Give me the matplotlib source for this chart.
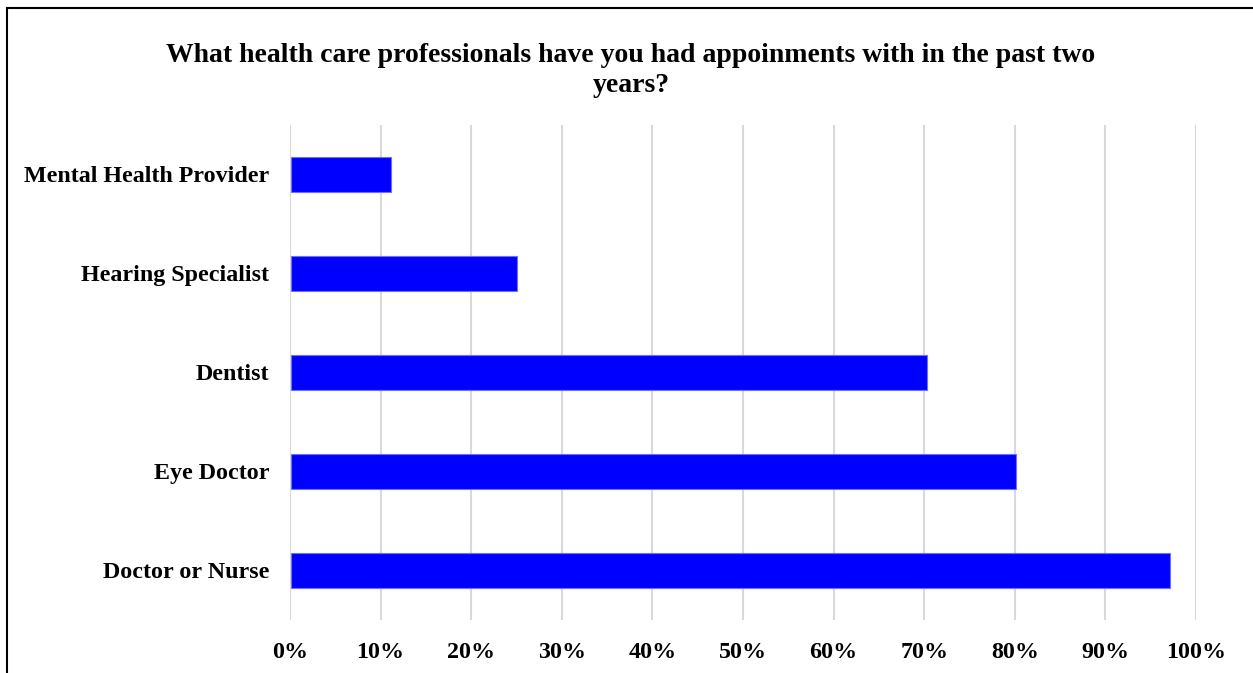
import matplotlib.pyplot as plt
from matplotlib.patches import Rectangle
from matplotlib.ticker import FuncFormatter

plt.rcParams['font.family'] = ['Liberation Serif', 'DejaVu Serif']
plt.rcParams['font.weight'] = 'bold'

categories = ['Doctor or Nurse', 'Eye Doctor', 'Dentist',
              'Hearing Specialist', 'Mental Health Provider']
shares = [97, 80, 70.2, 25, 11]
ticks = list(range(0, 101, 10))

title = ('What health care professionals have you had appoinments with in the past two\n'
         'years?')

fig = plt.figure(figsize=(12.53, 6.73), dpi=100)
ax = fig.add_axes([0.2314, 0.0788, 0.9545 - 0.2314, 0.8143 - 0.0788])

ax.barh(range(len(categories)), shares, height=0.35, left=0.1,
        color='#0000ff', edgecolor='#6f6fff', linewidth=0.8, zorder=3)

ax.set_xlim(0, 100)
ax.set_ylim(-0.5, len(categories) - 0.5)
ax.set_xticks(ticks)
ax.xaxis.set_major_formatter(FuncFormatter(lambda v, p: f'{v:.0f}%'))
ax.set_yticks(range(len(categories)))
ax.set_yticklabels(categories)
ax.tick_params(axis='both', length=0, labelsize=17.3)
ax.tick_params(axis='x', pad=16)
ax.tick_params(axis='y', pad=15)
for lab in ax.get_xticklabels() + ax.get_yticklabels():
    lab.set_fontweight('bold')

ax.grid(axis='x', color='#d9d9d9', linewidth=1.5, zorder=0)
for s in ax.spines.values():
    s.set_visible(False)

fig.text(0.5035, 0.895, title, ha='center', va='center', fontsize=20,
         fontweight='bold', linespacing=1.25)

# outer frame, open on the right and bottom
fig.patches.append(Rectangle((7 / 1253, -0.1), 1.2, 1.1 - 8 / 673,
                             transform=fig.transFigure, fill=False,
                             edgecolor='black', linewidth=1.5))

fig.savefig('out.png', dpi=100)
